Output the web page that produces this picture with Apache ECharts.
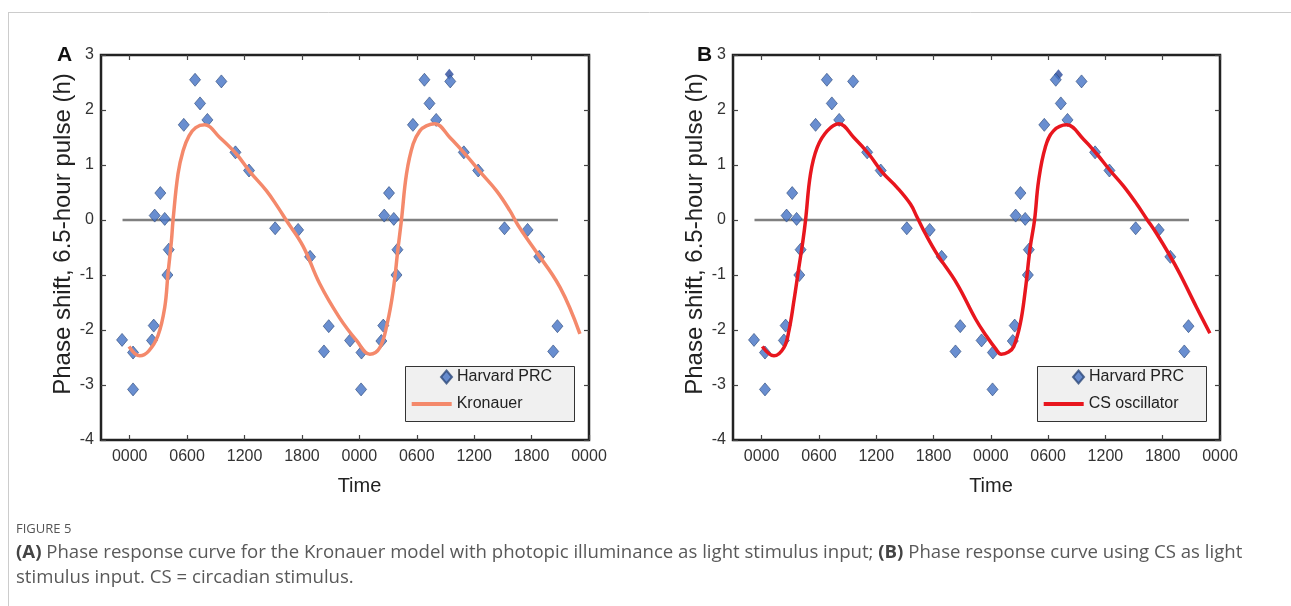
<!DOCTYPE html>
<html>
<head>
<meta charset="utf-8">
<script src="https://cdn.jsdelivr.net/npm/echarts@6/dist/echarts.min.js"></script>
<style>
html,body{margin:0;padding:0;background:#fff;}
#chart{width:1291px;height:606px;}
</style>
</head>
<body>
<div id="chart"></div>
<script>
// ---- Data ----
const xTickValues = [0, 6, 12, 18, 24, 30, 36, 42, 48];
const xTickLabels = ['0000', '0600', '1200', '1800', '0000', '0600', '1200', '1800', '0000'];
const yTickMin = -4, yTickMax = 3;

// Harvard PRC (hours, phase shift)
const prcHours = [-0.8, 0.35, 0.35, 2.33, 2.51, 2.61, 3.2, 3.66, 3.94, 4.08, 5.65, 6.83, 7.35, 8.12, 9.58, 11.05, 12.47, 15.2, 17.6, 18.85, 20.3, 20.8,
                  23.03, 24.22, 24.18, 26.3, 26.5, 26.6, 27.1, 27.6, 27.88, 27.98, 29.6, 30.8, 31.33, 32.03, 33.5, 34.92, 36.42, 39.17, 41.58, 42.8, 44.26, 44.7];
const prcShift = [-2.18, -2.41, -3.08, -2.19, -1.92, 0.08, 0.49, 0.02, -1.0, -0.54, 1.73, 2.55, 2.12, 1.82, 2.52, 1.23, 0.9, -0.15, -0.18, -0.67, -2.39, -1.93,
                  -2.19, -2.41, -3.08, -2.2, -1.92, 0.08, 0.49, 0.02, -1.0, -0.54, 1.73, 2.55, 2.12, 1.82, 2.52, 1.23, 0.9, -0.15, -0.18, -0.67, -2.39, -1.93];
// partly hidden marker in each panel
const hiddenA = [33.4, 2.65];
const hiddenB = [31.08, 2.64];

// Kronauer model curve (panel A)
const kronX = [-0.07, 1.05, 2.0, 2.96, 3.66, 4.0, 4.36, 4.53, 5.05, 5.58, 6.2, 6.9, 7.84, 9.41, 11.15, 12.55, 14.3, 15.5, 16.38, 18.1, 19.86, 21.9, 23.7,
               25.1, 26.14, 26.9, 27.53, 28.05, 28.4, 28.93, 29.62, 30.32, 31.0, 31.89, 33.46, 35.2, 36.6, 38.34, 39.73, 40.6, 42.17, 44.96, 47.05];
const kronY = [-2.3, -2.47, -2.38, -2.1, -1.59, -0.98, -0.38, 0, 0.84, 1.26, 1.53, 1.68, 1.73, 1.5, 1.2, 0.88, 0.53, 0.23, -0.01, -0.47, -1.16, -1.77, -2.19,
               -2.44, -2.32, -1.89, -1.29, -0.5, 0, 0.84, 1.38, 1.62, 1.71, 1.75, 1.5, 1.17, 0.88, 0.53, 0.17, -0.1, -0.5, -1.22, -2.07];

// CS oscillator curve (panel B)
const csX = [0.07, 1.29, 2.33, 2.86, 3.38, 3.9, 4.32, 4.6, 5.12, 5.82, 6.87, 8.08, 9.65, 11.22, 12.62, 14.19, 15.58, 16.28, 17.15, 18.37, 20.46, 22.4, 23.5,
             24.46, 25.1, 25.85, 26.4, 27.08, 27.6, 28.12, 28.58, 29.0, 29.7, 30.56, 31.96, 33.7, 35.1, 36.49, 37.88, 39.28, 40.32, 41.37, 42.76, 43.8, 45.55, 46.94];
const csY = [-2.3, -2.47, -2.32, -2.01, -1.47, -0.86, -0.38, 0, 0.84, 1.32, 1.62, 1.75, 1.5, 1.2, 0.87, 0.59, 0.29, 0.05, -0.25, -0.62, -1.16, -1.8, -2.1,
             -2.33, -2.44, -2.4, -2.3, -1.89, -1.29, -0.5, 0, 0.71, 1.32, 1.62, 1.73, 1.47, 1.2, 0.9, 0.62, 0.29, 0.02, -0.25, -0.65, -0.98, -1.59, -2.06];

// zero reference line
const zeroLineX = [-0.75, 44.75];
const zeroLineY = [0, 0];

// ---- Build ----
const zip = (a, b) => a.map((v, i) => [v, b[i]]);
const FONT = '"Liberation Sans", Arial, sans-serif';
const CAP = '"Open Sans", "Noto Sans", sans-serif';
const grids = [
  { left: 101, top: 55, width: 488, height: 385 },
  { left: 733, top: 55, width: 487, height: 385 }
];
const tickStyle = { color: '#444', width: 1.2 };

function xAxes(gi) {
  const common = { type: 'value', gridIndex: gi, min: -3, max: 48, splitLine: { show: false }, axisLine: { show: false, onZero: false } };
  return [
    Object.assign({}, common, {
      position: 'bottom',
      axisTick: { inside: true, length: 5, customValues: xTickValues, lineStyle: tickStyle },
      axisLabel: { customValues: xTickValues, margin: 9, fontSize: 16, color: '#333', fontFamily: FONT,
        formatter: v => xTickLabels[xTickValues.indexOf(v)] },
      name: 'Time', nameLocation: 'middle', nameGap: 36,
      nameTextStyle: { fontSize: 20, color: '#222', fontFamily: FONT, padding: [0, 0, 0, 29] }
    }),
    Object.assign({}, common, {
      position: 'top',
      axisTick: { inside: true, length: 5, customValues: xTickValues, lineStyle: tickStyle },
      axisLabel: { show: false }
    })
  ];
}
function yAxes(gi) {
  const common = { type: 'value', gridIndex: gi, min: yTickMin, max: yTickMax, interval: 1, splitLine: { show: false }, axisLine: { show: false, onZero: false } };
  return [
    Object.assign({}, common, {
      position: 'left',
      axisTick: { inside: true, length: 5, lineStyle: tickStyle },
      axisLabel: { margin: 7, fontSize: 16, color: '#333', fontFamily: FONT },
      name: 'Phase shift, 6.5-hour pulse (h)', nameLocation: 'middle', nameGap: 24, nameRotate: 90,
      nameTextStyle: { fontSize: 24, color: '#222', fontFamily: FONT, padding: [0, 0, 0, 27] }
    }),
    Object.assign({}, common, {
      position: 'right',
      axisTick: { inside: true, length: 5, lineStyle: tickStyle },
      axisLabel: { show: false }
    })
  ];
}

const markerStyle = { color: '#4472C4', borderColor: '#2E4A7A', borderWidth: 0.8 };

function panelSeries(gi, curveName, cx, cy, color, hidden) {
  const xi = gi * 2, yi = gi * 2;
  return [
    { type: 'line', xAxisIndex: xi, yAxisIndex: yi, data: zip(zeroLineX, zeroLineY), symbol: 'none', silent: true,
      lineStyle: { color: '#808080', width: 2.5 }, z: 1, name: 'zero' + gi },
    { type: 'scatter', xAxisIndex: xi, yAxisIndex: yi, data: [hidden], symbol: 'diamond', symbolSize: [9, 11],
      itemStyle: { color: '#2B4A9B' }, z: 2, name: 'hidden' + gi },
    { type: 'scatter', name: 'Harvard PRC', xAxisIndex: xi, yAxisIndex: yi, data: zip(prcHours, prcShift),
      symbol: 'diamond', symbolSize: [11, 13], itemStyle: markerStyle, z: 3 },
    { type: 'line', name: curveName, xAxisIndex: xi, yAxisIndex: yi, data: zip(cx, cy), smooth: 0.4,
      symbol: 'none', showSymbol: false, lineStyle: { color: color, width: 3.5 }, itemStyle: { color: color }, z: 4 }
  ];
}

const legendText = { fontSize: 16, color: '#222', fontFamily: FONT };
function legends(boxLeft, curveName) {
  return [
    { data: ['Harvard PRC'], left: boxLeft + 35, top: 369, padding: 0, itemWidth: 11, itemHeight: 13,
      textStyle: legendText, selectedMode: false },
    { data: [{ name: curveName, icon: 'rect' }], left: boxLeft + 6.7, top: 396, padding: 0, itemWidth: 40, itemHeight: 4,
      textStyle: Object.assign({ lineHeight: 16, padding: [0, 0, 0, 0] }, legendText), selectedMode: false }
  ];
}

const option = {
  animation: false,
  backgroundColor: '#fff',
  grid: grids.map(g => Object.assign({ show: true, borderColor: '#222', borderWidth: 2.5, backgroundColor: 'transparent' }, g)),
  xAxis: xAxes(0).concat(xAxes(1)),
  yAxis: yAxes(0).concat(yAxes(1)),
  legend: legends(405, 'Kronauer').concat(legends(1037, 'CS oscillator')),
  series: panelSeries(0, 'Kronauer', kronX, kronY, '#F4896B', hiddenA)
    .concat(panelSeries(1, 'CS oscillator', csX, csY, '#E8161E', hiddenB)),
  graphic: [
    { type: 'line', shape: { x1: 8, y1: 12.5, x2: 1291, y2: 12.5 }, style: { stroke: '#cccccc', lineWidth: 1 }, z: 0 },
    { type: 'line', shape: { x1: 8.5, y1: 12, x2: 8.5, y2: 606 }, style: { stroke: '#cccccc', lineWidth: 1 }, z: 0 },
    { type: 'rect', shape: { x: 405.5, y: 366.5, width: 169, height: 55 }, style: { fill: '#f0f0f0', stroke: '#333', lineWidth: 1 }, z: 0 },
    { type: 'rect', shape: { x: 1037.5, y: 366.5, width: 169, height: 55 }, style: { fill: '#f0f0f0', stroke: '#333', lineWidth: 1 }, z: 0 },
    { type: 'text', x: 57, y: 55, style: { text: 'A', font: 'bold 21px ' + FONT, fill: '#111', verticalAlign: 'middle' } },
    { type: 'text', x: 697, y: 55, style: { text: 'B', font: 'bold 21px ' + FONT, fill: '#111', verticalAlign: 'middle' } },
    { type: 'text', x: 16, y: 529, style: { text: 'FIGURE 5', font: '13px ' + CAP, fill: '#555', verticalAlign: 'middle' } },
    { type: 'text', x: 16, y: 553, style: {
        text: '{b|(A)} Phase response curve for the Kronauer model with photopic illuminance as light stimulus input; {b|(B)} Phase response curve using CS as light',
        font: '18.6px ' + CAP, fill: '#595959', verticalAlign: 'middle',
        rich: { b: { fontWeight: 'bold', fontSize: 18.6, fontFamily: CAP, fill: '#444' } } } },
    { type: 'text', x: 16, y: 578, style: { text: 'stimulus input. CS = circadian stimulus.', font: '18.6px ' + CAP, fill: '#595959', verticalAlign: 'middle' } }
  ]
};

const chart = echarts.init(document.getElementById('chart'), null, { renderer: 'canvas' });
chart.setOption(option);
</script>
</body>
</html>
